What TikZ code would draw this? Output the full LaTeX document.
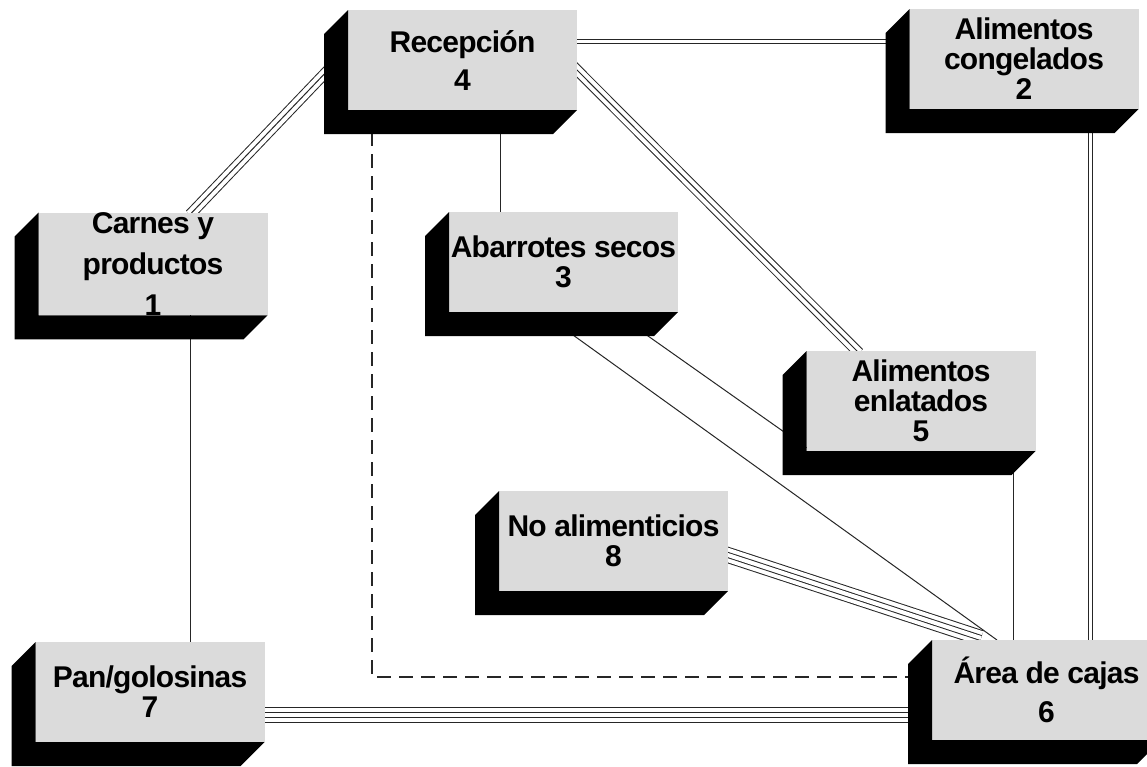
\documentclass[tikz,border=0pt]{standalone}
\usepackage{fontspec}
\setmainfont[LetterSpace=-2.5]{Liberation Sans}
\usetikzlibrary{calc}
\pgfdeclarelayer{fondo}
\pgfdeclarelayer{lineas}
\pgfsetlayers{fondo,lineas,main}

\begin{document}
\begin{tikzpicture}[x=1pt,y=-1pt]
\tikzset{caja/.style=
	{fill=black!14,minimum width=229pt,minimum height=100pt,inner sep=0pt,
	outer sep=0pt,align=center,font=\bfseries\fontsize{30}{30}\selectfont},
	sombra/.style={fill=black},
	simple/.style={draw=black!85,line width=1pt},
	doble/.style={draw=black!85,double,double distance=3pt,line width=1pt},
	triple/.style={draw=black!85,line width=11pt,
	postaction={draw=white,line width=9pt},
	postaction={draw=black!85,line width=1pt}},
	cuadruple/.style={draw=black!85,line width=16pt,
	postaction={draw=white,line width=14pt},
	postaction={draw=black!85,line width=6pt},
	postaction={draw=white,line width=4pt}},
	discontinua/.style={draw=black!85,line width=1.6pt,dash pattern=on 14pt off 8pt}}
\useasboundingbox (0,0) rectangle (1147,766);
\begin{pgfonlayer}{fondo}
\fill[white] (0,0) rectangle (1147,766);
\end{pgfonlayer}
% cajas
\node[caja] (rec) at (462.5,60) {Recepción\\[8pt]4};
\node[caja] (con) at (1024,59) {Alimentos\\congelados\\2};
\node[caja] (car) at (153,264) {Carnes y\\[11pt]productos\\[11pt]1};
\node[caja] (aba) at (563.5,262) {Abarrotes secos\\3};
\node[caja] (enl) at (921,401) {Alimentos\\enlatados\\5};
\node[caja] (noa) at (613.5,541) {No alimenticios\\8};
\node[caja] (pan) at (150,692) {Pan/golosinas\\7};
\node[caja] (are) at (1046.5,690) {Área de cajas\\[9pt]6};
\foreach \n in {rec,con,car,aba,enl,noa,pan,are}
	\fill[sombra] (\n.north west) -- ++(-24,24) -- ($(\n.south west)+(-24,24)$)
	-- ($(\n.south east)+(-24,24)$) -- (\n.south east) -- (\n.south west) -- cycle;
% conexiones
\begin{pgfonlayer}{lineas}
\draw[doble] ($(rec.east)+(-5,-19)$) -- ($(con.west)+(-5,-18)$);
\draw[doble] ($(con.south)+(66,0)$) -- ($(are.north)+(43.5,3)$);
\draw[triple] ($(car.north)+(37,2)$) -- ($(rec.west)+(-18,8)$);
\draw[triple] ($(rec.east)+(-4,6)$) -- ($(enl.north)+(-62,2)$);
\draw[cuadruple] ($(noa.east)+(-8,11.4)$) -- ($(are.north)+(-65.5,-2)$);
\draw[cuadruple] ($(pan.east)+(-5,23)$) -- ($(are.west)+(-10,25)$);
\draw[simple] ($(rec.south)+(37.5,0)$) -- ($(aba.north)+(-63.5,0)$);
\draw[simple] ($(car.south)+(37,0)$) -- ($(pan.north)+(40,0)$);
\draw[simple] ($(aba.south)+(-22.5,0)$) -- ($(are.north)+(-49.5,0)$);
\draw[simple] ($(aba.south)+(50.5,0)$) -- ($(enl.west)+(0,46.8)$);
\draw[simple] ($(enl.south)+(92,0)$) -- ($(are.north)+(-33.5,0)$);
\draw[discontinua] ($(rec.south)+(-90.5,0)$) |- ($(are.west)+(0,-13)$);
\end{pgfonlayer}
\end{tikzpicture}
\end{document}
